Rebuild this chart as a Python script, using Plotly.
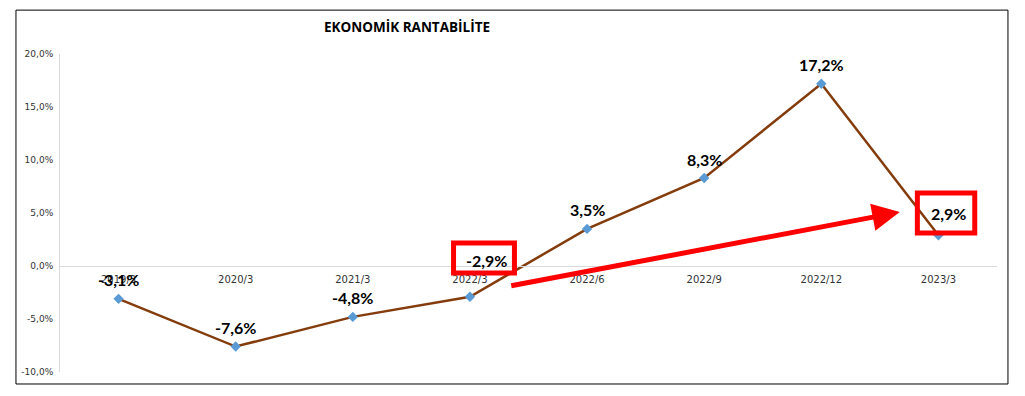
import plotly.graph_objects as go

categories = ["2019/3", "2020/3", "2021/3", "2022/3", "2022/6", "2022/9", "2022/12", "2023/3"]
values = [-3.1, -7.6, -4.8, -2.9, 3.5, 8.3, 17.2, 2.9]
y_ticks = [-10, -5, 0, 5, 10, 15, 20]
y_tick_labels = ["-10,0%", "-5,0%", "0,0%", "5,0%", "10,0%", "15,0%", "20,0%"]
title_text = "EKONOMİK RANTABİLİTE"

def fmt(v):
    return f"{v:.1f}".replace(".", ",") + "%"

fig = go.Figure()
fig.add_trace(go.Scatter(
    x=list(range(len(categories))), y=values, mode="lines+markers",
    line=dict(color="#843C0C", width=2.5),
    marker=dict(symbol="diamond", size=8, color="#5B9BD5"),
    hoverinfo="skip", showlegend=False,
))

# label offsets (pixels): default above; two moved labels
shifts = {3: (17, 36), 7: (10, 22)}
for i, v in enumerate(values):
    xs, ys = shifts.get(i, (0, 19))
    fig.add_annotation(x=i, y=v, text=fmt(v), showarrow=False,
                       xshift=xs, yshift=ys,
                       font=dict(family="Lato", size=16, color="black", weight="bold"))

# red highlight boxes
fig.add_shape(type="rect", xref="x", yref="y", x0=2.86, x1=3.38, y0=-0.66, y1=2.17,
              line=dict(color="#FF0000", width=5))
fig.add_shape(type="rect", xref="x", yref="y", x0=6.82, x1=7.31, y0=3.11, y1=6.89,
              line=dict(color="#FF0000", width=5))

# red arrow
fig.add_annotation(x=6.67, y=5.09, ax=3.34, ay=-1.89, xref="x", yref="y",
                   axref="x", ayref="y", showarrow=True, text="",
                   arrowhead=2, arrowsize=1.1, arrowwidth=5, arrowcolor="#FF0000",
                   standoff=0)

# outer border
fig.add_shape(type="rect", xref="paper", yref="paper",
              x0=-0.047, x1=1.0117, y0=-0.0377, y1=1.138,
              line=dict(color="black", width=1))

fig.add_annotation(xref="paper", yref="paper", x=(407 - 60) / 937, y=(372 - 27) / 318,
                   text=title_text, showarrow=False, xanchor="center", yanchor="middle",
                   font=dict(family="Open Sans", size=13.5, color="black", weight="bold"))

fig.update_layout(
    width=1017, height=388,
    margin=dict(l=52, r=28, t=46, b=24),
    plot_bgcolor="white", paper_bgcolor="white",
    xaxis=dict(
        tickmode="array", tickvals=list(range(len(categories))), ticktext=categories,
        range=[-0.5, len(categories) - 0.5],
        anchor="free", position=1/3,
        showline=True, linecolor="#D9D9D9", linewidth=1,
        showgrid=False, zeroline=False, ticks="", ticklabelstandoff=4,
        tickfont=dict(family="DejaVu Sans", size=10, color="#333333"),
    ),
    yaxis=dict(
        range=[-10, 20], tickmode="array", tickvals=y_ticks, ticktext=y_tick_labels,
        showline=True, linecolor="#D9D9D9", linewidth=1,
        showgrid=False, zeroline=False, ticks="", ticklabelstandoff=4,
        tickfont=dict(family="DejaVu Sans", size=9, color="#333333"),
        domain=[0, 1],
    ),
)

fig.write_html("out.html")
